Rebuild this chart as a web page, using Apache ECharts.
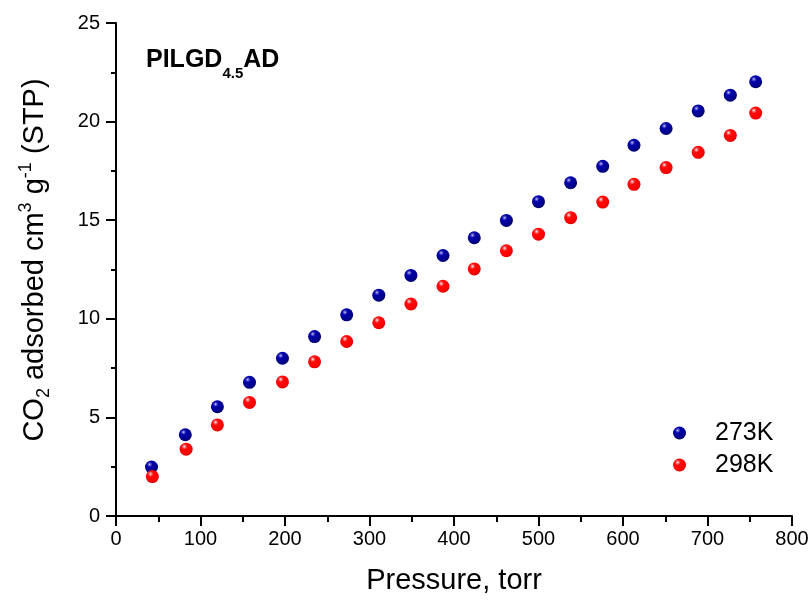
<!DOCTYPE html>
<html>
<head>
<meta charset="utf-8">
<script src="https://cdn.jsdelivr.net/npm/echarts@6/dist/echarts.min.js"></script>
<style>html,body{margin:0;padding:0;background:#fff;}#c{width:812px;height:601px;}</style>
</head>
<body>
<div id="c"></div>
<script>
const pressure273 = [42, 82, 120, 158, 197, 235, 273, 311, 349, 387, 424, 462, 500, 538, 576, 613, 651, 689, 727, 757];
const ads273 = [2.48, 4.12, 5.54, 6.78, 8.0, 9.1, 10.2, 11.2, 12.2, 13.21, 14.11, 14.99, 15.94, 16.9, 17.73, 18.8, 19.65, 20.54, 21.34, 22.02];
const pressure298 = [43, 83, 120, 158, 197, 235, 273, 311, 349, 387, 424, 462, 500, 538, 576, 613, 651, 689, 727, 757];
const ads298 = [2.0, 3.39, 4.62, 5.76, 6.8, 7.82, 8.85, 9.8, 10.75, 11.65, 12.53, 13.45, 14.29, 15.13, 15.92, 16.82, 17.67, 18.44, 19.3, 20.43];
const seriesNames = ['273K', '298K'];
const xTicks = [0, 100, 200, 300, 400, 500, 600, 700, 800];
const yTicks = [0, 5, 10, 15, 20, 25];

const font = 'Arial, "Liberation Sans", sans-serif';

function sphere(stops) {
  return {
    type: 'radial', x: 0.36, y: 0.3, r: 0.72,
    colorStops: stops.map(s => ({ offset: s[0], color: s[1] }))
  };
}

const chart = echarts.init(document.getElementById('c'), null, { renderer: 'canvas' });
chart.setOption({
  backgroundColor: '#ffffff',
  animation: false,
  grid: { left: 116, right: 20, top: 23, bottom: 85, containLabel: false },
  graphic: [{
    type: 'text',
    left: 146,
    top: 48,
    style: {
      text: '{a|PILGD}{s|4.5}{a|AD}{z| }',
      rich: {
        a: { fontFamily: font, fontSize: 25, fontWeight: 'bold', fill: '#000', verticalAlign: 'top', lineHeight: 25 },
        s: { fontFamily: font, fontSize: 15, fontWeight: 'bold', fill: '#000', verticalAlign: 'bottom', lineHeight: 15 },
        z: { fontFamily: font, fontSize: 10, fill: '#000', lineHeight: 33, verticalAlign: 'middle' }
      }
    }
  }],
  legend: {
    orient: 'vertical',
    left: 668,
    top: 414,
    itemWidth: 13,
    itemHeight: 13,
    itemGap: 4,
    icon: 'circle',
    data: seriesNames,
    itemStyle: { opacity: 1 },
    textStyle: { fontFamily: font, fontSize: 25, color: '#000', lineHeight: 28, padding: [0, 0, 0, 24] }
  },
  xAxis: {
    type: 'value',
    min: 0, max: 800, interval: 100,
    name: 'Pressure, torr',
    nameLocation: 'middle',
    nameGap: 50,
    nameTextStyle: { fontFamily: font, fontSize: 29, color: '#000' },
    axisLine: { show: true, onZero: false, lineStyle: { color: '#000', width: 2 } },
    axisTick: { show: true, inside: false, length: 10, lineStyle: { color: '#000', width: 2 } },
    minorTick: { show: true, splitNumber: 2, length: 6, lineStyle: { color: '#000', width: 2 } },
    axisLabel: { fontFamily: font, fontSize: 20, color: '#000', margin: 13,
      formatter: v => xTicks.indexOf(v) >= 0 ? String(v) : '' },
    splitLine: { show: false }
  },
  yAxis: {
    type: 'value',
    min: 0, max: 25, interval: 5,
    name: '{m|CO}{sub|2}{m| adsorbed cm}{sup|3}{m| g}{sup|-1}{m| (STP)}',
    nameLocation: 'middle',
    nameGap: 63,
    nameRotate: 90,
    nameTextStyle: {
      fontFamily: font, fontSize: 29, color: '#000',
      padding: [0, 0, 0, 19],
      rich: {
        m: { fontFamily: font, fontSize: 29, color: '#000', lineHeight: 36, verticalAlign: 'middle' },
        sub: { fontFamily: font, fontSize: 18, color: '#000', lineHeight: 14, verticalAlign: 'bottom' },
        sup: { fontFamily: font, fontSize: 18, color: '#000', lineHeight: 14, verticalAlign: 'top' }
      }
    },
    axisLine: { show: true, onZero: false, lineStyle: { color: '#000', width: 2 } },
    axisTick: { show: true, inside: false, length: 10, lineStyle: { color: '#000', width: 2 } },
    minorTick: { show: true, splitNumber: 2, length: 5, lineStyle: { color: '#000', width: 2 } },
    axisLabel: { fontFamily: font, fontSize: 20, color: '#000', margin: 16,
      formatter: v => yTicks.indexOf(v) >= 0 ? String(v) : '' },
    splitLine: { show: false }
  },
  series: [
    {
      name: seriesNames[0],
      type: 'scatter',
      symbol: 'circle',
      symbolSize: 13,
      itemStyle: { opacity: 1, color: sphere([[0, '#dcdcff'], [0.1, '#6a6ad8'], [0.3, '#0000aa'], [0.8, '#00008c'], [1, '#000062']]) },
      data: pressure273.map((x, i) => [x, ads273[i]])
    },
    {
      name: seriesNames[1],
      type: 'scatter',
      symbol: 'circle',
      symbolSize: 13,
      itemStyle: { opacity: 1, color: sphere([[0, '#ffffff'], [0.1, '#ff9090'], [0.3, '#ff0a0a'], [0.8, '#ff0000'], [1, '#d40000']]) },
      data: pressure298.map((x, i) => [x, ads298[i]])
    }
  ]
});
</script>
</body>
</html>
